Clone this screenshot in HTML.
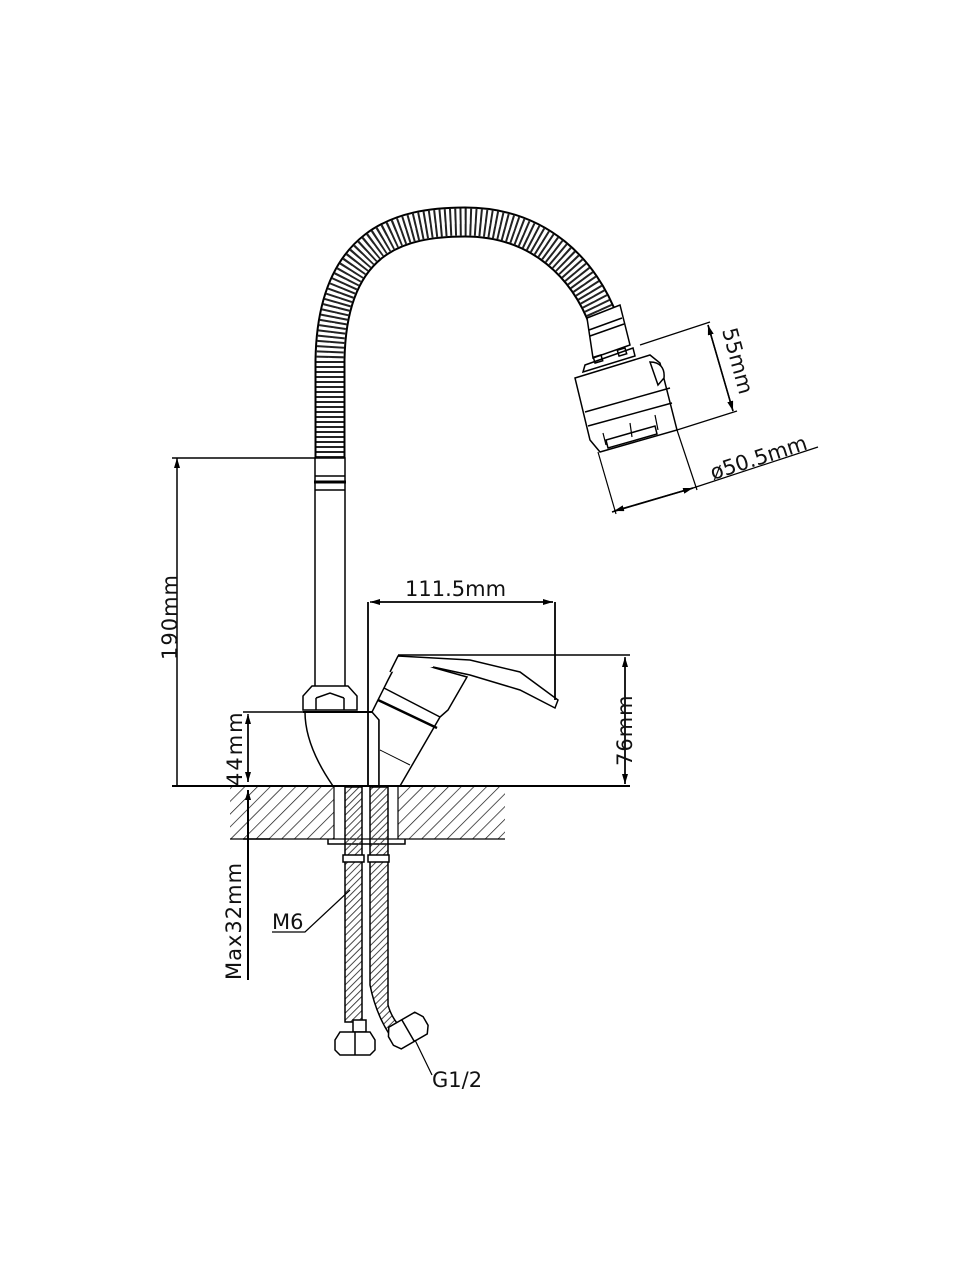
<!DOCTYPE html>
<html><head><meta charset="utf-8"><style>
html,body{margin:0;padding:0;background:#fff;}
svg{display:block;}
text{font-family:"DejaVu Sans","Liberation Sans",sans-serif;fill:#111;}
</style></head><body>
<svg width="960" height="1280" viewBox="0 0 960 1280" xmlns="http://www.w3.org/2000/svg">
<defs>
<pattern id="hatch" width="9" height="9" patternUnits="userSpaceOnUse" patternTransform="rotate(45)">
<line x1="0" y1="0" x2="0" y2="9" stroke="#111" stroke-width="1.4"/>
</pattern>
<pattern id="braid" width="5" height="5" patternUnits="userSpaceOnUse" patternTransform="rotate(45)">
<line x1="0" y1="0" x2="0" y2="5" stroke="#333" stroke-width="1.8"/>
</pattern>
<marker id="ar" markerWidth="10" markerHeight="6" refX="10" refY="3" orient="auto" markerUnits="userSpaceOnUse">
<path d="M0,0 L10,3 L0,6 z" fill="#000"/></marker>
</defs>
<g fill="none" stroke="#000" stroke-width="1.5">
<!-- corrugated hose -->
<path d="M330,458 L330,360 C332,240 400,222 465,222 C540,222 585,270 604,322" stroke="#000" stroke-width="31"/>
<path d="M330,458 L330,360 C332,240 400,222 465,222 C540,222 585,270 604,322" stroke="#fff" stroke-width="27"/>
<path d="M330,458 L330,360 C332,240 400,222 465,222 C540,222 585,270 604,322" stroke="#222" stroke-width="27" stroke-dasharray="2 3"/>
<path d="M330,458 L330,360 C332,240 400,222 465,222 C540,222 585,270 604,322" stroke="#fff" stroke-width="4" stroke-dasharray="2 3" stroke-dashoffset="2"/>
<!-- rod -->
<rect x="315" y="458" width="30" height="232" fill="#fff"/>
<line x1="315" y1="476" x2="345" y2="476"/><line x1="314" y1="482" x2="346" y2="482" stroke-width="3"/>
<line x1="315" y1="490" x2="345" y2="490"/>
<!-- nut -->
<path d="M303,710 L303,696 L312,686 L348,686 L357,696 L357,710 Z" fill="#fff"/>
<path d="M316,698 L330,693 L344,698 M316,698 L316,710 M344,698 L344,710"/>
<!-- body -->
<path d="M305,712 L379,712 L379,786 L333,786 C315,760 305,735 305,712 Z" fill="#fff"/>
<line x1="303" y1="712" x2="380" y2="712" stroke-width="2"/>
<!-- cartridge/handle -->
<path d="M388,680 L378,700 L372,712 L379,720 L379,786 L400,786 L440,717 L448,710 L467,677 L435,668 L400,657 Z" fill="#fff"/>
<line x1="384" y1="688" x2="440" y2="717"/>
<line x1="378" y1="700" x2="437" y2="728" stroke-width="2.5"/>
<line x1="380" y1="750" x2="410" y2="765" stroke-width="1"/>
<path d="M390,672 L398,656 L470,660 L520,672 L558,700 L555,708 L520,690 L470,675 L433,667" fill="#fff"/>
<!-- head -->
<path d="M587,318 L620,305 L630,345 L593,358 Z" fill="#fff"/>
<line x1="589" y1="330" x2="622" y2="318"/><line x1="590" y1="336" x2="624" y2="324"/>
<path d="M585,365 L583,372 L635,356 L633,348 Z" fill="#fff"/>
<rect x="594" y="356" width="8" height="6" transform="rotate(-17 598 359)"/>
<rect x="618" y="349" width="8" height="6" transform="rotate(-17 622 352)"/>
<path d="M575,378 L650,355 L660,363 L677,430 L600,452 L590,440 Z" fill="#fff"/>
<path d="M650,362 C660,362 665,368 664,378 L658,385 Z" fill="#fff"/>
<line x1="585" y1="412" x2="670" y2="388"/>
<line x1="588" y1="426" x2="672" y2="403"/>
<path d="M608,448 L606,440 L655,426 L657,434 Z" fill="#fff"/>
<path d="M603,433 L606,445 M630,423 L632,437 M655,415 L658,430" stroke-width="1.2"/>
<!-- dimensions -->
<line x1="177" y1="786" x2="177" y2="458" marker-end="url(#ar)"/>
<line x1="172" y1="458" x2="316" y2="458"/>
<line x1="172" y1="786" x2="630" y2="786" stroke-width="2"/>
<line x1="248" y1="716" x2="248" y2="782" marker-end="url(#ar)"/>
<line x1="248" y1="782" x2="248" y2="714" marker-end="url(#ar)"/>
<line x1="243" y1="712" x2="305" y2="712"/>
<line x1="368" y1="602" x2="368" y2="786" stroke-width="1.8"/>
<line x1="555" y1="602" x2="555" y2="700" stroke-width="1.8"/>
<line x1="372" y1="602" x2="553" y2="602" marker-end="url(#ar)"/>
<line x1="553" y1="602" x2="370" y2="602" marker-end="url(#ar)"/>
<line x1="398" y1="655" x2="630" y2="655"/>
<line x1="625" y1="658" x2="625" y2="784" marker-end="url(#ar)"/>
<line x1="625" y1="784" x2="625" y2="657" marker-end="url(#ar)"/>
<line x1="640" y1="345" x2="710" y2="322" stroke-width="1.2"/>
<line x1="677" y1="430" x2="737" y2="411" stroke-width="1.2"/>
<line x1="708" y1="325" x2="733" y2="411" marker-end="url(#ar)"/>
<line x1="733" y1="411" x2="708" y2="325" marker-end="url(#ar)"/>
<line x1="598" y1="452" x2="616" y2="514" stroke-width="1.2"/>
<line x1="677" y1="430" x2="697" y2="490" stroke-width="1.2"/>
<line x1="612" y1="512" x2="693" y2="488" marker-end="url(#ar)"/>
<line x1="693" y1="488" x2="614" y2="511" marker-end="url(#ar)"/>
<line x1="693" y1="488" x2="818" y2="447" stroke-width="1.2"/>
<!-- counter -->
<rect x="230" y="787" width="104" height="52" fill="url(#hatch)" stroke="none"/>
<rect x="398" y="787" width="107" height="52" fill="url(#hatch)" stroke="none"/>
<line x1="230" y1="839" x2="505" y2="839" stroke-width="1.2"/>
<line x1="334" y1="787" x2="334" y2="839" stroke-width="1.2"/>
<line x1="398" y1="787" x2="398" y2="839" stroke-width="1.2"/>
<path d="M328,839 L328,844 L405,844 L405,839"/>
<line x1="248" y1="790" x2="248" y2="980" stroke-width="2"/>
<line x1="243" y1="839" x2="270" y2="839"/>
<line x1="248" y1="800" x2="248" y2="790" marker-end="url(#ar)"/>
<!-- hoses -->
<rect x="345" y="787" width="17" height="235" fill="url(#braid)"/>
<rect x="343" y="855" width="21" height="7" fill="#fff"/>
<path d="M370,787 L388,787 L388,1005 C392,1020 402,1030 410,1035 L397,1045 C385,1030 375,1010 370,985 Z" fill="url(#braid)"/>
<rect x="368" y="855" width="21" height="7" fill="#fff"/>
<rect x="353" y="1020" width="13" height="12" fill="#fff"/>
<path d="M335,1040 L340,1032 L370,1032 L375,1040 L375,1050 L370,1055 L340,1055 L335,1050 Z" fill="#fff"/>
<line x1="355" y1="1032" x2="355" y2="1055"/>
<g transform="rotate(-30 410 1030)">
<path d="M388,1025 L393,1017 L423,1017 L428,1025 L428,1035 L423,1042 L393,1042 L388,1035 Z" fill="#fff"/>
<line x1="408" y1="1017" x2="408" y2="1042"/></g>
<!-- leaders -->
<path d="M272,932 L305,932 L350,890" stroke-width="1.2"/>
<path d="M415,1040 L432,1075" stroke-width="1.2"/>
</g>
<g font-size="21">
<text transform="translate(177,660) rotate(-90)" x="0" y="0" letter-spacing="1">190mm</text>
<text transform="translate(242,786) rotate(-90)" letter-spacing="2">44mm</text>
<text transform="translate(632,766) rotate(-90)" letter-spacing="1">76mm</text>
<text transform="translate(241,980) rotate(-90)" letter-spacing="1">Max32mm</text>
<text x="405" y="596">111.5mm</text>
<text transform="translate(722,330) rotate(75)">55mm</text>
<text transform="translate(713,480) rotate(-18)">ø50.5mm</text>
<text x="272" y="929">M6</text>
<text x="432" y="1087">G1/2</text>
</g>
</svg>
</body></html>
